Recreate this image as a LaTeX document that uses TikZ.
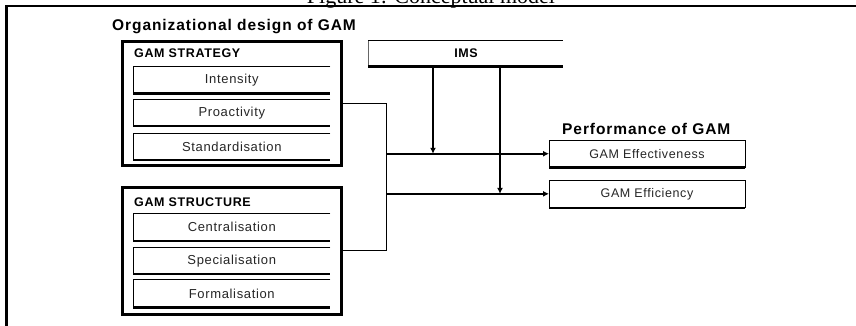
\documentclass[tikz,border=0pt]{standalone}
\usepackage{fontspec}
\setmainfont{Liberation Sans}
\newfontfamily\titlefont{Liberation Serif}
\usetikzlibrary{arrows.meta}
\tikzset{
 bigbox/.style={draw, line width=3pt, anchor=north west, inner sep=0pt, outer sep=0pt, minimum width=219pt},
 cellbox/.style={anchor=north west, inner sep=0pt, outer sep=0pt, minimum width=197pt, minimum height=27pt, text=black!85, font=\fontsize{13}{15}\selectfont\addfontfeature{LetterSpace=5}},
 perfbox/.style={cellbox, minimum width=196pt, minimum height=27.5pt, font=\fontsize{12.5}{15}\selectfont\addfontfeature{LetterSpace=5}},
 heading/.style={anchor=base west, inner sep=0pt, font=\fontsize{15.5}{18}\selectfont\bfseries\addfontfeature{LetterSpace=6}},
 boxhead/.style={anchor=base west, inner sep=0pt, font=\fontsize{12.5}{15}\selectfont\bfseries\addfontfeature{LetterSpace=5}},
 thinedge/.style={line width=0.7pt},
 thickedge/.style={line width=2.2pt},
 conn/.style={line width=1.3pt},
 arr/.style={line width=1.5pt, -{Latex[length=6pt,width=6pt]}},
}
\newcommand\cellframe[1]{%
  \draw[thinedge] (#1.north east) -- (#1.north west) -- (#1.south west);
  \draw[thickedge] (#1.south west) -- (#1.south east);}
\begin{document}
\begin{tikzpicture}[x=1pt,y=-1pt]
\useasboundingbox (0,0) rectangle (856,326);
\fill[white] (0,0) rectangle (856,326);
\clip (0,0) rectangle (856,326);

% title (cut at the top edge, as in the reference)
\node[anchor=base, inner sep=0pt, font=\titlefont\fontsize{22}{26}\selectfont] (title) at (431,4) {Figure 1: Conceptual model};

% outer frame
\draw[line width=2.3pt] (6.5,330) -- (6.5,6.3) -- (860,6.3);

% headings
\node[heading] (orgdesign) at (112,31) {Organizational design of GAM};
\node[heading] (perfhead) at (562,135) {Performance of GAM};

% strategy group
\node[bigbox, minimum height=123.5pt] (strat) at (122,42) {};
\node[boxhead] (strathead) at (134,58) {GAM STRATEGY};
\node[cellbox] (intens) at (133.3,66.5) {Intensity};
\node[cellbox] (proact) at (133.3,99.3) {Proactivity};
\node[cellbox] (stand) at (133.3,133) {Standardisation};
\cellframe{intens}\cellframe{proact}\cellframe{stand}

% structure group
\node[bigbox, minimum height=126.5pt] (struct) at (122,187.5) {};
\node[boxhead] (structhead) at (134,206.5) {GAM STRUCTURE};
\node[cellbox, minimum height=28pt] (central) at (133.3,213) {Centralisation};
\node[cellbox] (special) at (133.3,247.3) {Specialisation};
\node[cellbox, minimum height=28pt] (formal) at (133.3,279.5) {Formalisation};
\cellframe{central}\cellframe{special}\cellframe{formal}

% IMS
\node[anchor=north west, inner sep=0pt, outer sep=0pt, minimum width=195pt, minimum height=26.5pt] (ims) at (368,40) {};
\node[boxhead, anchor=base] (imstext) at (466,58) {IMS};
\draw[thinedge, black!60] (ims.south west) -- (ims.north west);
\draw[thinedge] (ims.north west) -- (ims.north east);
\draw[thickedge] (ims.south west) -- (ims.south east);

% performance boxes
\node[perfbox] (eff) at (549,140) {GAM Effectiveness};
\node[perfbox, minimum height=27.7pt] (effi) at (549,180) {GAM Efficiency};
\cellframe{eff}\cellframe{effi}
\draw[thinedge] (eff.north east) -- (eff.south east);
\draw[thinedge] (effi.north east) -- (effi.south east);

% connectors
\coordinate (jt) at (386.5,103.75);
\coordinate (jb) at (386.5,250.75);
\draw[conn] (strat.east) -- (jt) -- (jb) -- (struct.east);
\draw[arr] (jt |- eff.west) -- (eff.west);
\draw[arr] (jt |- effi.west) -- (effi.west);
\coordinate (ima) at (433,0);
\coordinate (imb) at (500,0);
\draw[arr, line width=1.8pt] (ims.south -| ima) -- (ima |- eff.west);
\draw[arr, line width=1.8pt] (ims.south -| imb) -- (imb |- effi.west);
\end{tikzpicture}
\end{document}
